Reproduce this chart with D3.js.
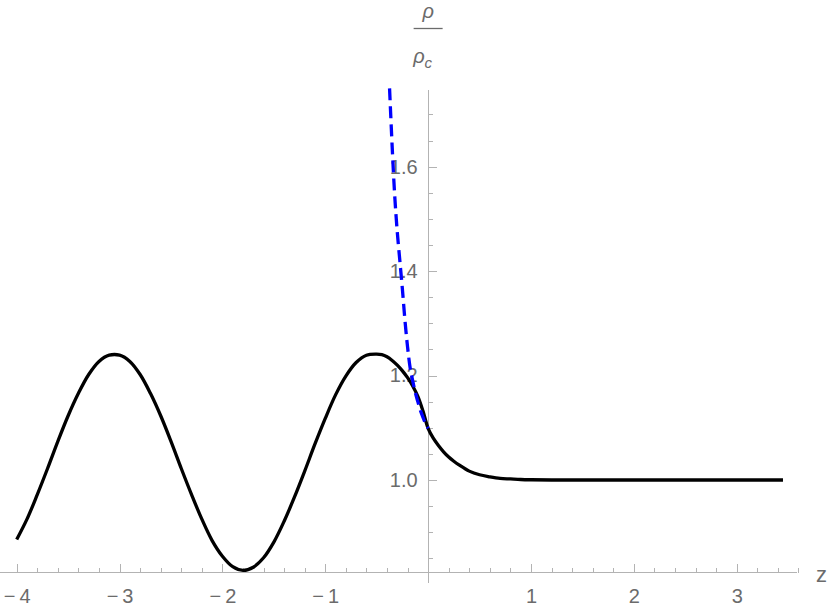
<!DOCTYPE html>
<html>
<head>
<meta charset="utf-8">
<script src="https://cdn.jsdelivr.net/npm/d3@7"></script>
<style>
  body { margin: 0; background: #fff; }
  svg { display: block; font-family: "Liberation Sans", Arial, sans-serif; }
  .axis line, .axis path { stroke: #b3b3b3; shape-rendering: crispEdges; }
  .axis text { fill: #6b6b6b; font-size: 20px; }
  .axis-label { fill: #6b6b6b; }
</style>
</head>
<body>
<div id="chart"></div>
<script>
// black curve: rho / rho_c against z
const blackZ = [
  -4.0, -3.9, -3.8, -3.7, -3.6, -3.5, -3.4, -3.3, -3.2, -3.1,
  -3.0, -2.9, -2.8, -2.7, -2.6, -2.5, -2.4, -2.3, -2.2, -2.1,
  -2.0, -1.9, -1.8, -1.7, -1.6, -1.5, -1.4, -1.3, -1.2, -1.1,
  -1.0, -0.9, -0.8, -0.7, -0.6, -0.5, -0.45, -0.4, -0.35, -0.3,
  -0.25, -0.2, -0.15, -0.1, -0.05, 0, 0.05, 0.1, 0.15, 0.2,
  0.25, 0.3, 0.4, 0.5, 0.6, 0.7, 0.8, 0.9, 1.0, 1.2,
  1.5, 2.0, 2.5, 3.0, 3.45,
];
const blackRho = [
  0.886, 0.925, 0.972, 1.022, 1.074, 1.123, 1.166, 1.202, 1.227, 1.239,
  1.239, 1.227, 1.202, 1.166, 1.123, 1.074, 1.022, 0.972, 0.925, 0.884,
  0.854, 0.834, 0.827, 0.833, 0.851, 0.881, 0.921, 0.967, 1.017, 1.069,
  1.118, 1.163, 1.199, 1.225, 1.239, 1.241, 1.240, 1.236, 1.229, 1.220,
  1.209, 1.196, 1.180, 1.160, 1.132, 1.099, 1.080, 1.066, 1.054, 1.044,
  1.036, 1.029, 1.017, 1.010, 1.006, 1.003, 1.002, 1.001, 1.0005, 1.0,
  1.0, 1.0, 1.0, 1.0, 1.0,
];

// blue dashed curve
const blueZ = [
  -0.375, -0.35, -0.325, -0.3, -0.275, -0.25, -0.225, -0.2,
  -0.175, -0.15, -0.125, -0.1, -0.075, -0.05, -0.025, 0,
];
const blueRho = [
  1.75, 1.64, 1.545, 1.475, 1.42, 1.365, 1.305, 1.255,
  1.215, 1.19, 1.168, 1.15, 1.133, 1.12, 1.108, 1.099,
];

const xMajor = [-4, -3, -2, -1, 1, 2, 3];
const xMinor = [
  -3.8, -3.6, -3.4, -3.2, -2.8, -2.6, -2.4, -2.2, -1.8, -1.6, -1.4, -1.2,
  -0.8, -0.6, -0.4, -0.2, 0.2, 0.4, 0.6, 0.8, 1.2, 1.4, 1.6, 1.8,
  2.2, 2.4, 2.6, 2.8, 3.2, 3.4, 3.6,
];
const yMajor = [1.0, 1.2, 1.4, 1.6];
const yMinor = [0.85, 0.9, 0.95, 1.05, 1.1, 1.15, 1.25, 1.3, 1.35, 1.45, 1.5, 1.55, 1.65, 1.7];

const width = 830;
const height = 614;

const x = d3.scaleLinear().domain([-4, 3]).range([16.7, 736.7]);
const y = d3.scaleLinear().domain([1, 1.6]).range([480, 166.7]);

// where the axes sit and how far they run
const xAxisAt = 0.822;
const xAxisExtent = [-4.163, 3.59];
const yAxisExtent = [0.803, 1.747];

const svg = d3.select("#chart").append("svg")
  .attr("width", width)
  .attr("height", height);

const fmt = (d) => (d < 0 ? "\u2212\u2009" : "") + Math.abs(d);

// x axis
const axisXg = svg.append("g").attr("class", "axis")
  .attr("transform", `translate(0,${y(xAxisAt)})`);
axisXg.append("line")
  .attr("x1", x(xAxisExtent[0])).attr("x2", x(xAxisExtent[1]));
axisXg.append("g")
  .call(d3.axisBottom(x).tickValues(xMinor).tickSize(-5).tickFormat(""))
  .call((g) => g.select(".domain").remove());
axisXg.append("g")
  .call(d3.axisBottom(x).tickValues(xMajor).tickSize(-8.5).tickPadding(15.5).tickFormat(fmt))
  .call((g) => g.select(".domain").remove())
  .call((g) => g.selectAll("text").attr("fill", null));

// y axis
const axisYg = svg.append("g").attr("class", "axis")
  .attr("transform", `translate(${x(0)},0)`);
axisYg.append("line")
  .attr("y1", y(yAxisExtent[0])).attr("y2", y(yAxisExtent[1]));
axisYg.append("g")
  .call(d3.axisLeft(y).tickValues(yMinor).tickSize(-5).tickFormat(""))
  .call((g) => g.select(".domain").remove());
axisYg.append("g")
  .call(d3.axisLeft(y).tickValues(yMajor).tickSize(-8.5).tickPadding(10.5).tickFormat(d3.format(".1f")))
  .call((g) => g.select(".domain").remove())
  .call((g) => g.selectAll("text").attr("fill", null));

// axis labels
svg.append("text")
  .attr("class", "axis-label")
  .attr("x", 816).attr("y", 582)
  .attr("font-size", 22)
  .text("z");

const yLabel = svg.append("g").attr("class", "axis-label")
  .attr("transform", `translate(${x(0)},0)`);
yLabel.append("text")
  .attr("x", 0).attr("y", 17.5)
  .attr("text-anchor", "middle")
  .attr("font-size", 20)
  .attr("font-style", "italic")
  .text("\u03c1");
yLabel.append("line")
  .attr("x1", -14.5).attr("x2", 14.5)
  .attr("y1", 28.5).attr("y2", 28.5)
  .attr("stroke", "#6b6b6b")
  .attr("stroke-width", 1.3);
const denom = yLabel.append("text")
  .attr("x", -15).attr("y", 63)
  .attr("font-size", 20)
  .attr("font-style", "italic");
denom.append("tspan").text("\u03c1");
denom.append("tspan").attr("font-size", 15).attr("dy", 5).text("c");

// curves
const line = d3.line()
  .x((d) => x(d[0]))
  .y((d) => y(d[1]))
  .curve(d3.curveCatmullRom.alpha(0.5));

svg.append("path")
  .attr("d", line(d3.zip(blackZ, blackRho)))
  .attr("fill", "none")
  .attr("stroke", "#000")
  .attr("stroke-width", 3.3)
  .attr("stroke-linejoin", "round");

svg.append("path")
  .attr("d", line(d3.zip(blueZ, blueRho)))
  .attr("fill", "none")
  .attr("stroke", "#0000ff")
  .attr("stroke-width", 3.3)
  .attr("stroke-dasharray", "12,6");
</script>
</body>
</html>
